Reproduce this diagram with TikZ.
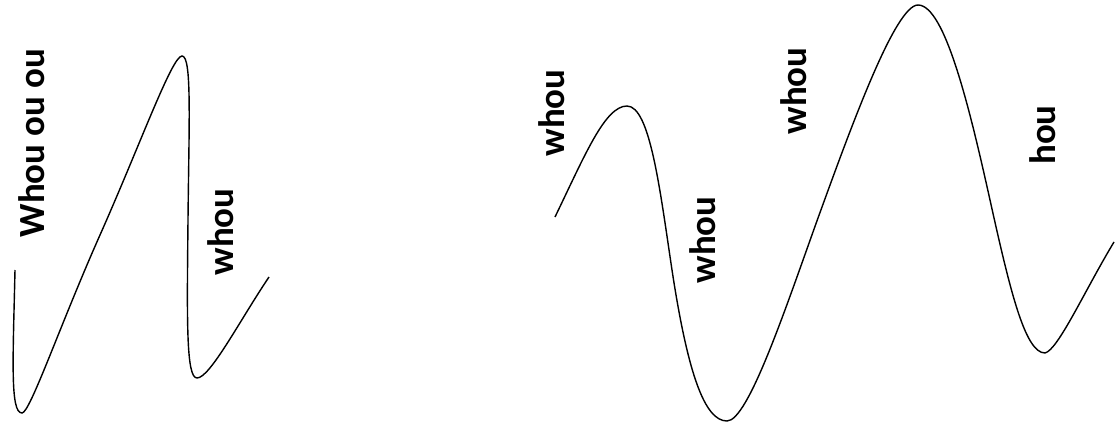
\documentclass[tikz,border=0pt]{standalone}
\usepackage{fontspec}
\setmainfont{Carlito}
\usepackage{tikz}

\begin{document}
\begin{tikzpicture}[x=0.02cm,y=-0.02cm,
  word/.style={font=\bfseries\fontsize{21}{25}\selectfont, rotate=90, inner sep=0pt},
  wave/.style={line width=0.8pt}]

\useasboundingbox (0,0) rectangle (1120,423);

%left wave:
\coordinate (A0) at (15,270);
\coordinate (A1) at (22,413);
\coordinate (A2) at (182,56);
\coordinate (A3) at (197,378);
\coordinate (A4) at (269,277);
\draw[wave] (A0) .. controls (13,360) and (10,413) .. (A1)
  .. controls (30,413) and (60,325) .. (100,235)
  .. controls (140,145) and (172,56) .. (A2)
  .. controls (192,56) and (189,120) .. (188,220)
  .. controls (187,320) and (186,378) .. (A3)
  .. controls (210,378) and (240,320) .. (A4);

%right wave:
\coordinate (B0) at (555,217);
\coordinate (B1) at (627,106);
\coordinate (B2) at (727,421);
\coordinate (B3) at (918,5);
\coordinate (B4) at (1045,353);
\coordinate (B5) at (1114,242);
\draw[wave] (B0) .. controls (585,155) and (605,106) .. (B1)
  .. controls (650,106) and (660,190) .. (672,270)
  .. controls (688,375) and (705,421) .. (B2)
  .. controls (748,421) and (785,310) .. (818,218)
  .. controls (850,130) and (895,5) .. (B3)
  .. controls (945,5) and (970,110) .. (990,200)
  .. controls (1010,290) and (1025,353) .. (B4)
  .. controls (1058,350) and (1085,290) .. (B5);

%labels
\node[word] (whouououa) at (32,143) {Whou ou ou};
\node[word] (whoua) at (221,232) {whou};
\node[word] (whoub) at (552,113) {whou};
\node[word] (whouc) at (703,240) {whou};
\node[word] (whoud) at (794,91) {whou};
\node[word] (houa) at (1043,135) {hou};

\end{tikzpicture}
\end{document}
